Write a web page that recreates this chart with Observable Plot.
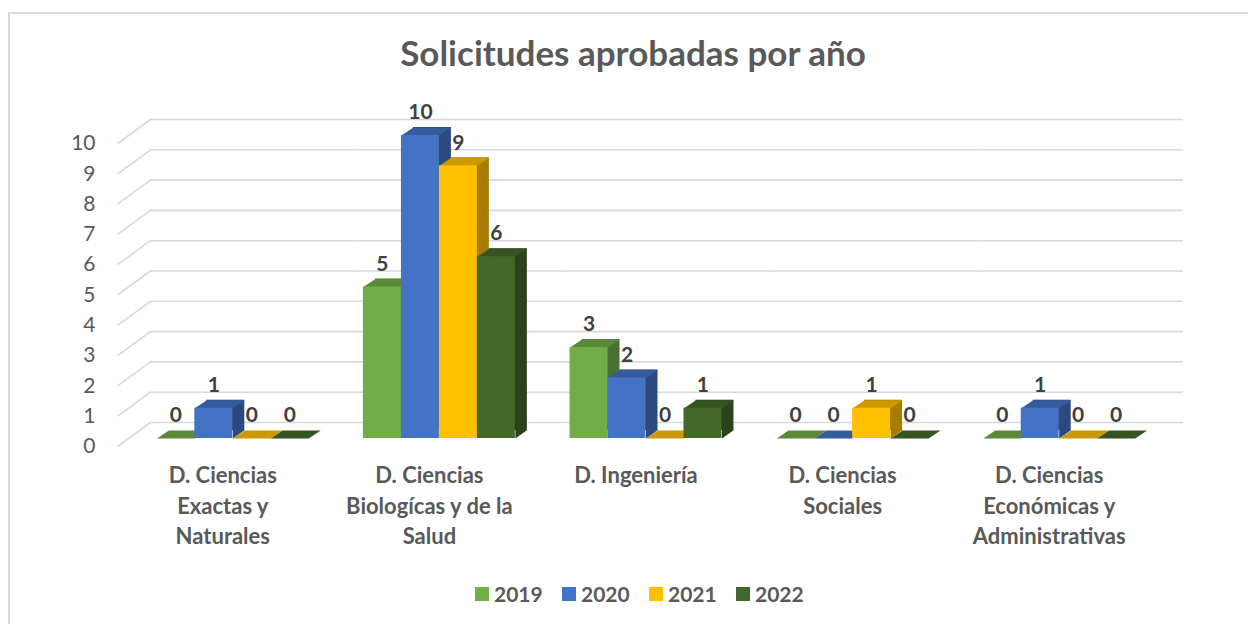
<!DOCTYPE html>
<html>
<head>
<meta charset="utf-8">
<script src="https://cdn.jsdelivr.net/npm/d3@7"></script>
<script src="https://cdn.jsdelivr.net/npm/@observablehq/plot@0.6"></script>
<style>
  html, body { margin: 0; padding: 0; background: #fff; }
  body { width: 1248px; height: 624px; overflow: hidden; position: relative; font-family: Lato, "Open Sans", sans-serif; }
  #frame { position: absolute; left: 8px; top: 12px; width: 1300px; height: 700px; border-left: 2px solid #d9d9d9; border-top: 2px solid #d9d9d9; }
  #title { position: absolute; left: 0; top: 35px; width: 1266px; text-align: center; font-weight: 700; font-size: 35px; line-height: 34px; color: #595959; }
  #chart { position: absolute; left: 0; top: 90px; }
  #legend { position: absolute; left: 475px; top: 582px; height: 24px; display: flex; }
  .item { width: 87px; display: flex; align-items: center; font-weight: 700; font-size: 21px; color: #595959; line-height: 24px; }
  .sw { width: 14px; height: 14px; margin-right: 5px; }
</style>
</head>
<body>
<div id="frame"></div>
<div id="title">Solicitudes aprobadas por año</div>
<div id="chart"></div>
<div id="legend"></div>
<script>
// ---- data ----
const departments = [
  "D. Ciencias Exactas y Naturales",
  "D. Ciencias Biologícas y de la Salud",
  "D. Ingeniería",
  "D. Ciencias Sociales",
  "D. Ciencias Económicas y Administrativas"
];
const departmentLabels = [
  "D. Ciencias\nExactas y\nNaturales",
  "D. Ciencias\nBiologícas y de la\nSalud",
  "D. Ingeniería",
  "D. Ciencias\nSociales",
  "D. Ciencias\nEconómicas y\nAdministrativas"
];
const years = ["2019", "2020", "2021", "2022"];
const values2019 = [0, 5, 3, 0, 0];
const values2020 = [1, 10, 2, 0, 1];
const values2021 = [0, 9, 0, 1, 0];
const values2022 = [0, 6, 1, 0, 0];
const yTicks = [0, 1, 2, 3, 4, 5, 6, 7, 8, 9, 10];

// ---- styles ----
const frontColor = {"2019": "#70ad47", "2020": "#4472c4", "2021": "#ffc000", "2022": "#43682b"};
const topColor   = {"2019": "#5a8a39", "2020": "#365b9d", "2021": "#cc9a00", "2022": "#365322"};
const sideColor  = {"2019": "#497131", "2020": "#2c4a80", "2021": "#a67d00", "2022": "#2b431c"};
const DX = 12, DY = 8; // bar depth (px)

const series = [values2019, values2020, values2021, values2022];
const rows = [];
departments.forEach((dept, i) => {
  years.forEach((year, j) => rows.push({dept, year, value: series[j][i]}));
});
const labelOf = new Map(departments.map((d, i) => [d, departmentLabels[i]]));

const base = {
  width: 1248,
  height: 480,
  marginLeft: 129,
  marginRight: 86,
  marginTop: 45,
  marginBottom: 132,
  style: {fontFamily: "Lato, 'Open Sans', sans-serif", background: "transparent", overflow: "visible"},
  fx: {domain: departments, padding: 0, round: false, axis: null},
  x: {domain: years, paddingInner: 0, paddingOuter: 0.72, round: false, axis: null},
  y: {domain: [0, 10], axis: null},
  color: {type: "identity"}
};

// probe to get bar width
const probe = Plot.plot({...base, marks: [Plot.barY(rows, {fx: "dept", x: "year", y: "value"})]});
let bw = probe.scale("x").bandwidth;
if (!bw) bw = 37;
const w = bw;

const topSymbol = {draw(ctx) {
  ctx.moveTo(-w / 2, 0); ctx.lineTo(w / 2, 0); ctx.lineTo(w / 2 + DX, -DY); ctx.lineTo(-w / 2 + DX, -DY); ctx.closePath();
}};
const bottomSymbol = {draw(ctx) {
  ctx.moveTo(w / 2, 0); ctx.lineTo(w / 2, -DY - 0.5); ctx.lineTo(w / 2 + DX, -DY - 0.5); ctx.closePath();
}};
const diagSymbol = {draw(ctx) {
  ctx.moveTo(0, 0); ctx.lineTo(33, -24);
}};

const first = departments[0];

const chart = Plot.plot({
  ...base,
  marks: [
    Plot.ruleY(yTicks, {y: d => d, dx: 21, dy: -16, stroke: "#d9d9d9", strokeWidth: 1.6}),
    Plot.dot(yTicks, {fx: () => first, y: d => d, frameAnchor: "left", dx: -12, dy: 8, symbol: diagSymbol, stroke: "#d9d9d9", strokeWidth: 1.6, fill: "none"}),
    Plot.barY(rows, {fx: "dept", x: "year", y: "value", fill: d => sideColor[d.year], dx: DX, dy: -DY}),
    Plot.dot(rows.filter(d => d.value > 0), {fx: "dept", x: "year", y: () => 0, symbol: bottomSymbol, fill: d => sideColor[d.year], stroke: "none"}),
    Plot.dot(rows, {fx: "dept", x: "year", y: "value", symbol: topSymbol, fill: d => topColor[d.year], stroke: "none"}),
    Plot.barY(rows, {fx: "dept", x: "year", y: "value", fill: d => frontColor[d.year]}),
    Plot.text(rows, {fx: "dept", x: "year", y: "value", text: d => String(d.value), dy: -23, fontSize: 21, fontWeight: "bold", fill: "#404040"}),
    Plot.text(yTicks, {fx: () => first, y: d => d, text: d => String(d), frameAnchor: "left", dx: -34, dy: 8, textAnchor: "end", fontSize: 21, fill: "#595959"}),
    Plot.text(departments, {fx: d => d, text: d => labelOf.get(d), frameAnchor: "bottom", lineAnchor: "top", dx: -10, dy: 23, lineHeight: 1.39, fontSize: 22, fontWeight: "bold", fill: "#595959"})
  ]
});
document.getElementById("chart").appendChild(chart);

// legend
const legend = document.getElementById("legend");
years.forEach(y => {
  const item = document.createElement("div");
  item.className = "item";
  const sw = document.createElement("span");
  sw.className = "sw";
  sw.style.background = frontColor[y];
  item.appendChild(sw);
  item.appendChild(document.createTextNode(y));
  legend.appendChild(item);
});
</script>
</body>
</html>
